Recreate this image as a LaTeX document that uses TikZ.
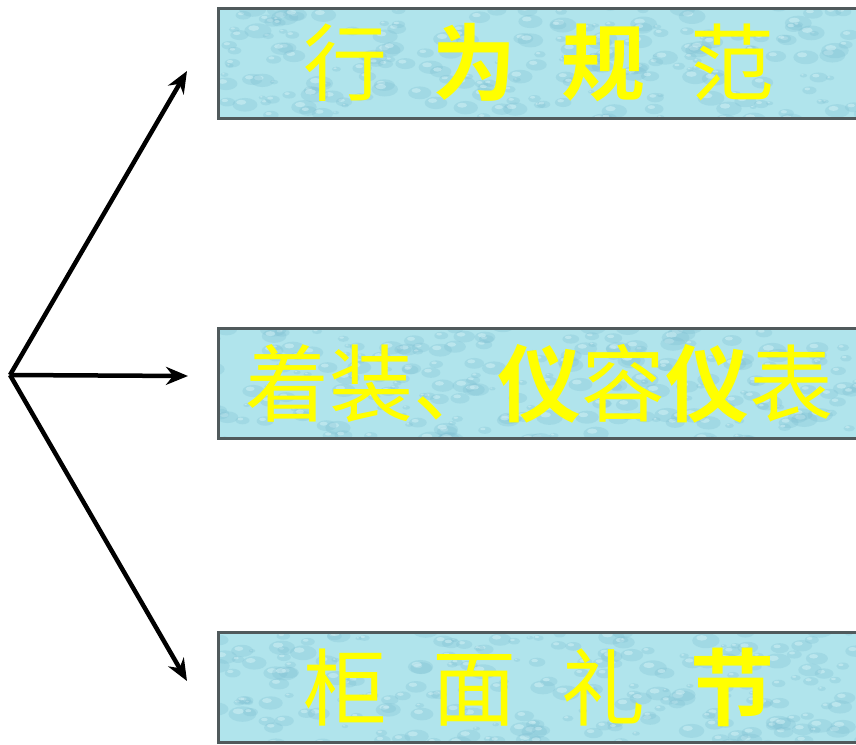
\documentclass[tikz,border=0pt]{standalone}
\usepackage{fontspec}
\newfontfamily\cjk{Noto Sans CJK SC}
\newfontfamily\cjkb{Noto Sans CJK SC Bold}
\usetikzlibrary{arrows.meta}
\definecolor{boxfill}{RGB}{176,228,236}
\definecolor{boxedge}{RGB}{80,90,92}
\definecolor{dropdark}{RGB}{125,190,210}
\definecolor{droplight}{RGB}{228,250,252}
\definecolor{txt}{RGB}{255,255,0}
\newcommand{\mydrops}{%
  \foreach \i in {1,...,220}{%
    \pgfmathsetmacro\dx{rand*330}%
    \pgfmathsetmacro\dy{rand*58}%
    \pgfmathsetmacro\rr{3+rnd*11}%
    \fill[dropdark,opacity=0.28] ([shift={(\dx pt,\dy pt)}]path picture bounding box.center) ellipse [x radius=\rr pt, y radius=0.55*\rr pt];
    \fill[droplight,opacity=0.4] ([shift={(\dx pt-0.3*\rr pt,\dy pt+0.2*\rr pt)}]path picture bounding box.center) ellipse [x radius=0.4*\rr pt, y radius=0.2*\rr pt];
  }}
\tikzset{
  panel/.style={rectangle, draw=boxedge, line width=3pt, fill=boxfill,
    minimum width=642pt, minimum height=110pt, inner sep=0pt,
    text=txt, font=\cjk\fontsize{84}{84}\selectfont,
    path picture={\mydrops}},
  conn/.style={line width=4.5pt, -{Stealth[length=22pt,width=18pt]}}
}
\begin{document}
\begin{tikzpicture}[x=1pt,y=-1pt]
\pgfmathsetseed{7}
\useasboundingbox (0,0) rectangle (856,744);
\fill[white] (0,0) rectangle (856,744);
\node[panel] (b1) at (539,63) {行\hspace{45pt}{\cjkb 为}\hspace{45pt}{\cjkb 规}\hspace{45pt}范};
\node[panel] (b2) at (539,383.5) {着装、{\cjkb 仪}容{\cjkb 仪}表};
\node[panel] (b3) at (539,687) {柜\hspace{45pt}面\hspace{45pt}礼\hspace{45pt}{\cjkb 节}};
\coordinate (o) at (10,375);
\coordinate (t1) at (187,71);
\coordinate (t2) at (188,376);
\coordinate (t3) at (187,681);
\draw[conn] (o) -- (t1);
\draw[conn] (o) -- (t2);
\draw[conn] (o) -- (t3);
\end{tikzpicture}
\end{document}
